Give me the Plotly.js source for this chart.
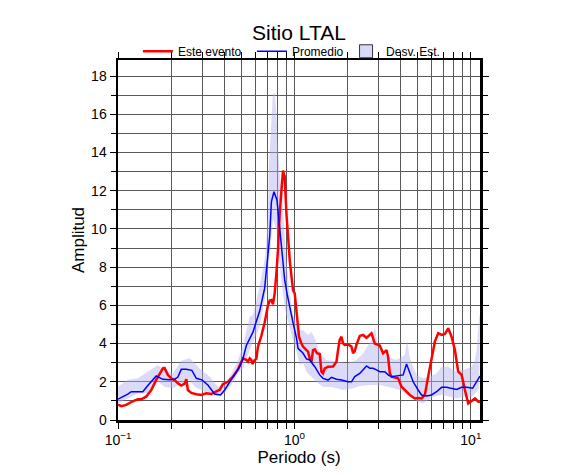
<!DOCTYPE html>
<html>
<head>
<meta charset="utf-8">
<script src="https://cdn.plot.ly/plotly-3.0.1.min.js"></script>
<style>html,body{margin:0;padding:0;background:#fff;}#chart{width:586px;height:475px;}</style>
</head>
<body>
<div id="chart"></div>
<script>
// Este evento (red)
const eventoT = [0.1,0.1043,0.1113,0.1213,0.1296,0.1354,0.1445,0.1543,0.1647,0.172,0.1796,0.1836,0.1917,0.2004,0.2093,0.2185,0.2284,0.2385,0.2439,0.2489,0.2602,0.2779,0.2966,0.3166,0.338,0.3609,0.3767,0.3934,0.42,0.4483,0.4787,0.5108,0.534,0.5453,0.5577,0.5702,0.5776,0.5953,0.6085,0.6214,0.6496,0.6782,0.7082,0.7241,0.7405,0.756,0.773,0.7903,0.807,0.8252,0.8437,0.8616,0.8695,0.8808,0.9008,0.9198,0.9404,0.9491,0.9741,0.9818,1.004,1.027,1.048,1.062,1.096,1.119,1.17,1.195,1.221,1.249,1.275,1.304,1.344,1.392,1.423,1.453,1.486,1.551,1.656,1.731,1.768,1.807,1.848,1.887,1.929,2.014,2.106,2.15,2.198,2.247,2.347,2.451,2.562,2.675,2.735,2.856,3.048,3.183,3.327,3.397,3.474,3.552,3.873,4.048,4.227,4.512,4.817,5.028,5.256,5.488,5.729,5.99,6.254,6.531,6.827,7.128,7.442,7.78,8.124,8.481,8.867,9.259,9.665,10.1,10.55,11.02,11.26];
const eventoA = [0.8,0.72,0.79,0.98,1.08,1.08,1.22,1.57,2.1,2.44,2.7,2.72,2.36,2.18,2.09,1.92,1.8,1.9,2.13,1.57,1.42,1.35,1.31,1.4,1.36,1.5,1.57,1.88,2.0,2.27,2.65,3.23,3.15,3.05,3.23,3.14,2.93,3.14,3.2,3.84,4.4,5.1,6.0,6.25,6.28,6.05,6.63,7.68,8.9,10.8,12.0,13.05,12.9,12.74,10.82,9.42,8.38,8.03,6.8,6.8,6.63,5.59,4.6,4.36,4.0,3.84,3.66,3.58,3.23,3.05,3.66,3.7,3.49,3.45,2.53,2.44,2.7,2.79,2.8,3.05,3.66,4.2,4.36,4.01,3.93,3.95,3.84,3.49,3.6,3.93,4.4,4.45,4.3,4.45,4.54,4.0,3.9,3.49,3.66,3.3,2.44,2.27,2.18,1.74,1.57,1.31,1.13,1.15,1.13,1.31,2.27,3.14,4.1,4.54,4.45,4.5,4.8,4.36,3.66,2.53,2.36,1.57,0.87,1.0,1.13,0.96,0.96];

// Promedio (blue)
const promT = [0.1,0.102,0.1137,0.1188,0.1324,0.1382,0.1476,0.1647,0.1796,0.196,0.2093,0.2185,0.2284,0.2439,0.2623,0.2779,0.2989,0.3233,0.3529,0.3817,0.4022,0.4391,0.4895,0.5108,0.534,0.5821,0.6353,0.6782,0.7082,0.7241,0.7405,0.766,0.7966,0.8176,0.8437,0.8808,0.9078,0.9528,0.9818,1.027,1.048,1.096,1.119,1.17,1.221,1.304,1.392,1.453,1.551,1.622,1.731,1.848,2.014,2.106,2.198,2.347,2.451,2.562,2.675,2.793,2.92,3.048,3.254,3.397,3.552,3.791,4.134,4.321,4.512,4.711,5.028,5.256,5.611,5.99,6.394,6.827,7.289,7.78,8.306,8.867,9.467,10.24,10.69,11.07,11.26];
const promA = [1.1,1.13,1.35,1.48,1.48,1.48,1.8,2.3,2.13,2.1,2.13,2.25,2.65,2.65,2.6,2.18,2.1,1.83,1.36,1.31,1.57,2.13,2.79,3.2,3.9,4.6,5.7,6.9,8.55,9.6,11.43,11.95,11.5,10.47,9.07,7.33,6.63,5.59,5.1,4.3,3.75,3.58,3.49,3.2,3.14,2.79,2.36,2.18,2.09,2.23,2.13,2.09,2.0,2.0,2.27,2.44,2.62,2.83,2.71,2.71,2.62,2.53,2.53,2.36,2.27,2.3,2.36,2.93,2.45,2.0,1.57,1.31,1.26,1.31,1.48,1.71,1.71,1.64,1.6,1.71,1.71,1.66,1.95,2.23,2.3];

// Desv. Est. band (upper / lower)
const supT = [0.1,0.1137,0.1296,0.1476,0.1682,0.1836,0.2046,0.2284,0.2545,0.2718,0.2966,0.3306,0.3685,0.4022,0.4391,0.4787,0.5108,0.5577,0.5821,0.6353,0.6782,0.6935,0.7082,0.7174,0.7405,0.756,0.773,0.7903,0.807,0.8252,0.8548,0.8808,0.9008,0.9404,0.9818,1.027,1.072,1.119,1.195,1.249,1.304,1.344,1.392,1.519,1.731,1.973,2.247,2.451,2.735,2.856,2.982,3.327,3.791,4.227,4.355,4.512,4.924,5.368,5.858,6.394,6.827,7.442,8.306,9.055,10.1,10.55,10.79,11.02,11.16,11.26];
const supA = [1.74,2.1,2.18,2.53,2.88,2.6,2.44,3.1,3.23,2.97,2.62,2.27,1.74,1.92,2.44,3.14,3.9,5.4,5.5,7.0,8.4,9.4,10.8,13.4,15.7,17.1,17.1,16.05,14.3,12.9,11.5,9.5,8.3,6.6,5.5,5.0,4.7,4.7,4.45,4.6,4.3,3.9,3.49,3.14,3.05,2.97,3.14,3.49,4.19,4.88,3.84,3.31,3.14,3.4,4.19,3.23,2.36,2.18,2.27,2.44,2.79,2.79,2.53,2.62,2.79,3.14,3.66,5.0,5.5,5.5];
const infT = [0.1,0.1137,0.1296,0.1476,0.1682,0.1836,0.2046,0.2284,0.2545,0.2718,0.2966,0.3306,0.3685,0.4022,0.4391,0.4787,0.5108,0.5577,0.6353,0.6935,0.7241,0.756,0.7903,0.807,0.8437,0.8808,0.9008,0.9818,1.048,1.072,1.119,1.17,1.333,1.453,1.656,1.887,2.15,2.347,2.675,3.048,3.474,3.959,4.512,5.028,5.368,5.729,6.116,6.827,7.61,8.306,9.055,10.1,10.79,11.16,11.26];
const infA = [0.87,1.13,1.4,1.4,2.0,1.74,1.66,1.92,2.09,1.74,1.57,1.31,1.26,1.4,1.83,2.44,2.7,3.66,4.88,6.8,8.8,10.5,10.0,9.0,7.3,5.95,5.5,4.19,3.31,2.88,2.97,2.53,2.0,1.74,1.71,1.57,1.66,1.78,1.83,1.83,1.71,1.57,1.22,0.96,0.87,1.05,1.22,1.31,1.22,1.13,1.22,1.22,1.48,1.66,1.7];

// Tick labels
const xTickVals = [0.1,0.2,0.3,0.4,0.5,0.6,0.7,0.8,0.9,1,2,3,4,5,6,7,8,9,10];
const xTickText = ['10<sup>−1</sup>','','','','','','','','','10<sup>0</sup>','','','','','','','','','10<sup>1</sup>'];
const yTickVals = [0,2,4,6,8,10,12,14,16,18];

const bandX = supT.concat(infT.slice().reverse());
const bandY = supA.concat(infA.slice().reverse());

const FONT = 'Liberation Sans, Arial, Helvetica, sans-serif';

const traces = [
  {x: bandX, y: bandY, type: 'scatter', mode: 'lines', fill: 'toself',
   fillcolor: 'rgba(175,175,240,0.45)', line: {width: 0}, hoverinfo: 'skip', showlegend: false},
  {x: eventoT, y: eventoA, type: 'scatter', mode: 'lines', name: 'Este evento',
   line: {color: '#ff0000', width: 2.5}, legend: 'legend'},
  {x: promT, y: promA, type: 'scatter', mode: 'lines', name: 'Promedio',
   line: {color: '#0000ff', width: 1.5}, legend: 'legend2'},
  {x: [null], y: [null], type: 'scatter', mode: 'markers', name: 'Desv. Est.',
   marker: {symbol: 'square', size: 13, color: 'rgb(216,216,248)', line: {color: '#333', width: 1}}, legend: 'legend3'}
];

const legBase = {orientation: 'h', xanchor: 'left', y: 0.984, yanchor: 'bottom',
  font: {family: FONT, size: 12, color: '#000'}, bgcolor: 'rgba(0,0,0,0)'};

const layout = {
  width: 586, height: 475,
  margin: {l: 118, r: 106, t: 60, b: 55},
  paper_bgcolor: '#fff', plot_bgcolor: '#fff',
  font: {family: FONT, color: '#000', size: 14},
  title: {text: 'Sitio LTAL', font: {family: FONT, size: 21, color: '#000'},
          x: 0.5, xanchor: 'center', y: 0.932, yanchor: 'middle', xref: 'paper'},
  showlegend: true,
  legend: Object.assign({}, legBase, {x: 0.055}),
  legend2: Object.assign({}, legBase, {x: 0.370}),
  legend3: Object.assign({}, legBase, {x: 0.630}),
  xaxis: {
    type: 'log', range: [-1, 1.052],
    tickvals: xTickVals, ticktext: xTickText,
    ticks: 'outside', ticklen: 6, tickwidth: 1, tickcolor: '#000',
    showgrid: true, gridcolor: '#5a5a5a', gridwidth: 1,
    showline: true, linecolor: '#000', linewidth: 2.5, mirror: 'ticks',
    zeroline: false,
    tickfont: {family: FONT, size: 14, color: '#000'},
    title: {text: 'Periodo (s)', font: {family: FONT, size: 17, color: '#000'}, standoff: 2}
  },
  yaxis: {
    range: [0, 18.84],
    tickvals: yTickVals,
    ticks: 'outside', ticklen: 6, tickwidth: 1, tickcolor: '#000',
    minor: {dtick: 1, ticks: 'outside', ticklen: 5, tickcolor: '#000', showgrid: true, gridcolor: '#5a5a5a', gridwidth: 1},
    showgrid: true, gridcolor: '#5a5a5a', gridwidth: 1,
    showline: true, linecolor: '#000', linewidth: 2.5, mirror: 'ticks',
    zeroline: false,
    tickfont: {family: FONT, size: 14, color: '#000'},
    title: {text: 'Amplitud', font: {family: FONT, size: 17, color: '#000'}, standoff: 2}
  }
};

Plotly.newPlot('chart', traces, layout, {displayModeBar: false, staticPlot: true});
</script>
</body>
</html>
